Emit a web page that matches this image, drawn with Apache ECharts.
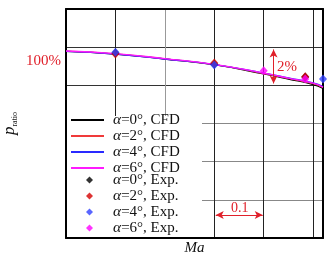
<!DOCTYPE html>
<html>
<head>
<meta charset="utf-8">
<script src="https://cdn.jsdelivr.net/npm/echarts@6/dist/echarts.min.js"></script>
<style>
  html, body { margin: 0; padding: 0; background: #fff; }
  #chart { width: 331px; height: 258px; }
</style>
</head>
<body>
<div id="chart"></div>
<script>
// CFD curves, pressure ratio (%) vs Ma
const maCfd = [0.3, 0.4, 0.5, 0.6, 0.7, 0.75, 0.8, 0.82];
const cfdA0 = [97.78, 97.64, 97.38, 97.08, 96.6, 96.33, 96.04, 95.84];
const cfdA2 = [97.79, 97.65, 97.39, 97.09, 96.62, 96.36, 96.09, 95.89];
const cfdA4 = [97.78, 97.64, 97.38, 97.09, 96.64, 96.39, 96.13, 95.94];
const cfdA6 = [97.8, 97.66, 97.4, 97.1, 96.64, 96.38, 96.11, 95.91];

// experiment points
const expMaA0 = [0.4, 0.6, 0.784];
const expA0 = [97.7, 97.1, 96.44];
const expMaA2 = [0.4, 0.6, 0.784];
const expA2 = [97.64, 97.17, 96.45];
const expMaA4 = [0.4, 0.6, 0.82];
const expA4 = [97.73, 97.07, 96.33];
const expMaA6 = [0.7, 0.784];
const expA6 = [96.77, 96.33];

const cfdNames = ['α=0°, CFD', 'α=2°, CFD', 'α=4°, CFD', 'α=6°, CFD'];
const expNames = ['α=0°, Exp.', 'α=2°, Exp.', 'α=4°, Exp.', 'α=6°, Exp.'];
const cfdColors = ['#000000', '#f03a3a', '#2a2aff', '#ff1aff'];
const expColors = ['#000000', '#d40000', '#3040ff', '#ff00ff'];

const chart = echarts.init(document.getElementById('chart'));
const serif = 'Liberation Serif';
const red = '#e0202a';

function pairs(xs, ys) {
  return xs.map((x, i) => [x, ys[i]]);
}

const cfdSeries = [cfdA0, cfdA2, cfdA4, cfdA6].map((vals, i) => ({
  name: cfdNames[i],
  type: 'line',
  data: pairs(maCfd, vals),
  showSymbol: false,
  symbol: 'none',
  smooth: true,
  lineStyle: { color: cfdColors[i], width: 1.3 },
  itemStyle: { color: cfdColors[i] },
  z: 2,
}));

const expSeries = [
  [expMaA0, expA0],
  [expMaA2, expA2],
  [expMaA4, expA4],
  [expMaA6, expA6],
].map((d, i) => ({
  name: expNames[i],
  type: 'scatter',
  data: pairs(d[0], d[1]),
  symbol: 'diamond',
  symbolSize: [8, 9],
  clip: false,
  itemStyle: { color: expColors[i] },
  z: 3,
}));

function legendText(padLeft) {
  return {
    fontFamily: serif,
    fontSize: 15,
    color: '#111',
    lineHeight: 14.7,
    padding: [0, 0, 0, padLeft],
    rich: {
      a: { fontFamily: serif, fontStyle: 'italic', fontSize: 15.5, color: '#111', lineHeight: 14.7 },
    },
  };
}
function legendFmt(name) {
  return name.replace('α', '{a|α}');
}

const frameAxis = {
  axisLine: { show: true, onZero: false, lineStyle: { color: '#000', width: 2 } },
  axisTick: { show: false },
  axisLabel: { show: false },
  splitLine: { show: false },
};

const option = {
  animation: false,
  grid: { left: 66, right: 8, top: 9, bottom: 20, outerBoundsMode: 'none', containLabel: false },
  xAxis: [
    {
      type: 'value',
      min: 0.3,
      max: 0.82,
      interval: 0.1,
      name: 'Ma',
      nameLocation: 'middle',
      nameGap: 3,
      nameTextStyle: { fontFamily: serif, fontStyle: 'italic', fontSize: 15, color: '#111', verticalAlign: 'top' },
      axisLine: { show: true, onZero: false, lineStyle: { color: '#000', width: 2 } },
      axisTick: { show: false },
      axisLabel: { show: false },
      splitLine: {
        show: true,
        lineStyle: { color: ['#222', '#222', '#999', '#222', '#222', '#222', '#222'], width: 1 },
      },
    },
    { type: 'value', position: 'top', min: 0.3, max: 0.82, ...frameAxis },
  ],
  yAxis: [
    {
      type: 'value',
      min: 88,
      max: 100,
      interval: 2,
      name: '{p|p}{s|ratio}',
      nameLocation: 'middle',
      nameRotate: 90,
      nameGap: 47,
      nameTextStyle: {
        rich: {
          p: { fontFamily: serif, fontStyle: 'italic', fontSize: 17, color: '#111', lineHeight: 18 },
          s: { fontFamily: serif, fontSize: 8, color: '#111', verticalAlign: 'bottom', lineHeight: 18, padding: [8, 0, 0, 0] },
        },
      },
      axisLine: { show: true, onZero: false, lineStyle: { color: '#000', width: 2 } },
      axisTick: { show: false },
      axisLabel: { show: false },
      splitLine: {
        show: true,
        lineStyle: { color: ['#222', '#888', '#888', '#888', '#333', '#333', '#222'], width: 1 },
      },
    },
    { type: 'value', position: 'right', min: 88, max: 100, ...frameAxis },
  ],
  legend: [
    {
      data: cfdNames,
      orient: 'vertical',
      left: 71,
      top: 112,
      padding: 0,
      itemGap: 0,
      itemWidth: 33,
      itemHeight: 2,
      icon: 'rect',
      textStyle: legendText(4),
      formatter: legendFmt,
      selectedMode: false,
    },
    {
      data: expNames,
      orient: 'vertical',
      left: 86,
      top: 172,
      padding: 0,
      itemGap: 0,
      itemWidth: 7,
      itemHeight: 7,
      icon: 'diamond',
      textStyle: legendText(15),
      formatter: legendFmt,
      selectedMode: false,
    },
  ],
  graphic: [
    // white legend box that hides grid lines
    { type: 'rect', left: 67, top: 116, z: 1, shape: { width: 135, height: 121 }, style: { fill: '#fff' } },
    { type: 'text', right: 270, top: 54, style: { text: '100%', fill: red, font: '15px "Liberation Serif"' } },
    { type: 'text', left: 277, top: 60, style: { text: '2%', fill: red, font: '15px "Liberation Serif"' } },
    { type: 'text', left: 231, top: 201, style: { text: '0.1', fill: red, font: '14px "Liberation Serif"' } },
  ],
  series: [
    ...cfdSeries,
    ...expSeries,
    {
      name: 'annot',
      type: 'line',
      data: [],
      silent: true,
      markLine: {
        silent: true,
        symbol: ['arrow', 'arrow'],
        symbolSize: [6, 8],
        label: { show: false },
        lineStyle: { color: red, width: 1, type: 'solid' },
        data: [
          [{ coord: [0.72, 97.88] }, { coord: [0.72, 96.1] }],
          [{ coord: [0.603, 89.2] }, { coord: [0.698, 89.2] }],
        ],
      },
    },
  ],
};

chart.setOption(option);
</script>
</body>
</html>
